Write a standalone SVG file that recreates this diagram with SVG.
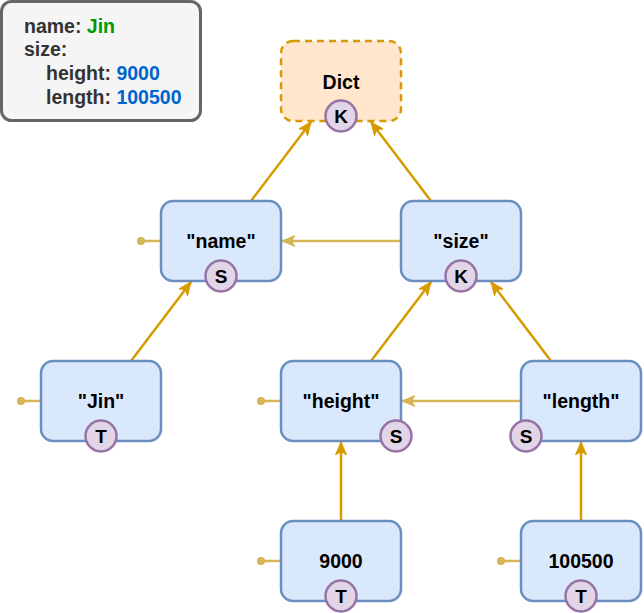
<svg xmlns="http://www.w3.org/2000/svg" width="644" height="613" viewBox="0 0 644 613">
<style>
.box{fill:#dae8fc;stroke:#6c8ebf;stroke-width:2.5}
.dict{fill:#ffe6cc;stroke:#d79b00;stroke-width:2.5;stroke-dasharray:7 5}
.lbl{font-family:"Liberation Sans",Arial,sans-serif;font-weight:bold;font-size:19.5px;fill:#000;text-anchor:middle}
.bdg{fill:#e1d5e7;stroke:#9673a6;stroke-width:2.5}
.bt{font-family:"Liberation Sans",Arial,sans-serif;font-weight:bold;font-size:19px;fill:#000;text-anchor:middle}
.e1{stroke:#d79b00;stroke-width:2.5;fill:none;marker-end:url(#a1)}
.e2{stroke:#d6b656;stroke-width:2.5;fill:none;marker-end:url(#a2)}
.stub{stroke:#d6b656;stroke-width:2.5}
.dot{fill:#d6b656}
.leg{font-family:"Liberation Sans",Arial,sans-serif;font-weight:bold;font-size:19.5px;fill:#333}
</style>
<defs>
<marker id="a1" markerUnits="userSpaceOnUse" viewBox="0 0 14 12" refX="13" refY="6" markerWidth="14" markerHeight="12" orient="auto">
<path d="M0,0.5 L13,6 L0,11.5 L3.5,6 Z" fill="#d79b00" stroke="#d79b00" stroke-width="1"/>
</marker>
<marker id="a2" markerUnits="userSpaceOnUse" viewBox="0 0 14 12" refX="13" refY="6" markerWidth="14" markerHeight="12" orient="auto">
<path d="M0,0.5 L13,6 L0,11.5 L3.5,6 Z" fill="#d6b656" stroke="#d6b656" stroke-width="1"/>
</marker>
</defs>
<g id="legend">
<rect x="1.5" y="1.5" width="199" height="119" rx="10" fill="#f5f5f5" stroke="#666666" stroke-width="3"/>
<text class="leg" x="24" y="33">name: <tspan fill="#009900">Jin</tspan></text>
<text class="leg" x="24" y="56">size:</text>
<text class="leg" x="46" y="80">height: <tspan fill="#0066cc">9000</tspan></text>
<text class="leg" x="46" y="104">length: <tspan fill="#0066cc">100500</tspan></text>
</g>
<g id="connectors">
<line class="e1" x1="251" y1="201" x2="311" y2="122"/>
<line class="e1" x1="431" y1="201" x2="371" y2="122"/>
<line class="e2" x1="401" y1="241" x2="282" y2="241"/>
<line class="e1" x1="131" y1="361" x2="191" y2="282"/>
<line class="e1" x1="371" y1="361" x2="431" y2="282"/>
<line class="e1" x1="551" y1="361" x2="491" y2="282"/>
<line class="e2" x1="521" y1="401" x2="402" y2="401"/>
<line class="e1" x1="341" y1="521" x2="341" y2="442"/>
<line class="e1" x1="581" y1="521" x2="581" y2="442"/>
<line class="stub" x1="141" y1="241" x2="161" y2="241"/><circle class="dot" cx="141" cy="241" r="4"/>
<line class="stub" x1="21" y1="401" x2="41" y2="401"/><circle class="dot" cx="21" cy="401" r="4"/>
<line class="stub" x1="261" y1="401" x2="281" y2="401"/><circle class="dot" cx="261" cy="401" r="4"/>
<line class="stub" x1="261" y1="561" x2="281" y2="561"/><circle class="dot" cx="261" cy="561" r="4"/>
<line class="stub" x1="501" y1="561" x2="521" y2="561"/><circle class="dot" cx="501" cy="561" r="4"/>
</g>
<g id="dict">
<rect class="dict" x="281" y="41" width="120" height="80" rx="12"/>
<text class="lbl" x="341" y="89">Dict</text>
<circle class="bdg" cx="341" cy="116" r="15.5"/><text class="bt" x="341" y="123">K</text>
</g>
<g id="name">
<rect class="box" x="161" y="201" width="120" height="80" rx="12"/>
<text class="lbl" x="221" y="248">"name"</text>
<circle class="bdg" cx="221" cy="276" r="15.5"/><text class="bt" x="221" y="283">S</text>
</g>
<g id="size">
<rect class="box" x="401" y="201" width="120" height="80" rx="12"/>
<text class="lbl" x="461" y="248">"size"</text>
<circle class="bdg" cx="461" cy="276" r="15.5"/><text class="bt" x="461" y="283">K</text>
</g>
<g id="jin">
<rect class="box" x="41" y="361" width="120" height="80" rx="12"/>
<text class="lbl" x="101" y="408">"Jin"</text>
<circle class="bdg" cx="101" cy="436" r="15.5"/><text class="bt" x="101" y="443">T</text>
</g>
<g id="height">
<rect class="box" x="281" y="361" width="120" height="80" rx="12"/>
<text class="lbl" x="341" y="408">"height"</text>
<circle class="bdg" cx="396" cy="436" r="15.5"/><text class="bt" x="396" y="443">S</text>
</g>
<g id="length">
<rect class="box" x="521" y="361" width="120" height="80" rx="12"/>
<text class="lbl" x="581" y="408">"length"</text>
<circle class="bdg" cx="526" cy="436" r="15.5"/><text class="bt" x="526" y="443">S</text>
</g>
<g id="v9000">
<rect class="box" x="281" y="521" width="120" height="80" rx="12"/>
<text class="lbl" x="341" y="568">9000</text>
<circle class="bdg" cx="341" cy="596" r="15.5"/><text class="bt" x="341" y="603">T</text>
</g>
<g id="v100500">
<rect class="box" x="521" y="521" width="120" height="80" rx="12"/>
<text class="lbl" x="581" y="568">100500</text>
<circle class="bdg" cx="581" cy="596" r="15.5"/><text class="bt" x="581" y="603">T</text>
</g>
</svg>
